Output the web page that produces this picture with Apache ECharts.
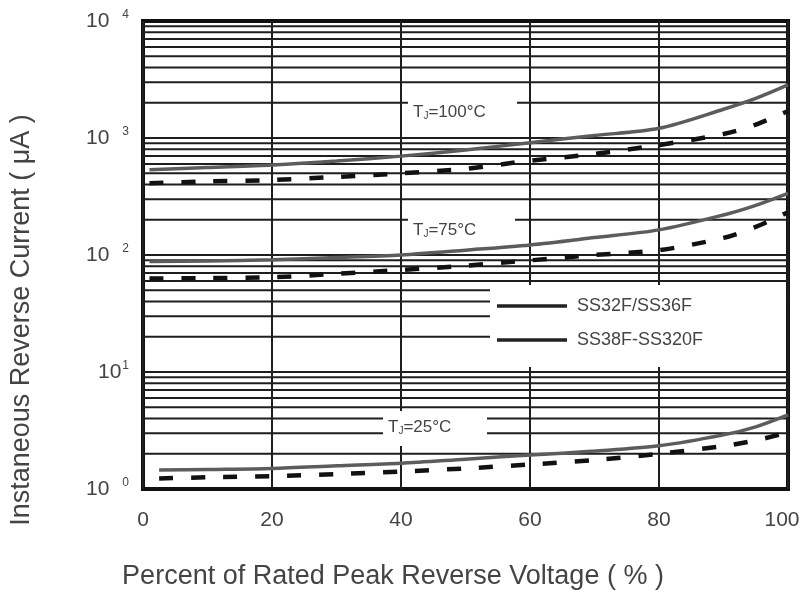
<!DOCTYPE html>
<html>
<head>
<meta charset="utf-8">
<script src="https://cdn.jsdelivr.net/npm/echarts@6/dist/echarts.min.js"></script>
<style>
html,body{margin:0;padding:0;background:#fff;}
#c{width:803px;height:590px;}
</style>
</head>
<body>
<div id="c"></div>
<script>
// ---- data ----
const xHot  = [1, 10, 20, 30, 40, 50, 60, 70, 80, 90, 95, 100];
const xCold = [2.5, 10, 20, 30, 40, 50, 60, 70, 80, 90, 95, 100];
const t100Solid = [535, 560, 588, 635, 700, 790, 912, 1050, 1210, 1760, 2180, 2840];
const t100Dash  = [410, 425, 437, 465, 499, 545, 640, 730, 871, 1082, 1300, 1700];
const t75Solid  = [88, 89, 91, 95, 100, 110, 122, 141, 164, 220, 266, 337];
const t75Dash   = [63, 63.5, 64.5, 69, 74.5, 81, 90, 100, 110, 140, 174, 232];
const t25Solid  = [1.45, 1.47, 1.50, 1.58, 1.66, 1.80, 1.95, 2.11, 2.34, 2.9, 3.4, 4.3];
const t25Dash   = [1.23, 1.26, 1.29, 1.34, 1.41, 1.50, 1.62, 1.77, 2.0, 2.33, 2.6, 3.05];
const seriesNames = ['SS32F/SS36F', 'SS38F-SS320F'];
const tempLabels = ['100°C', '75°C', '25°C'];
const xTicks = [0, 20, 40, 60, 80, 100];
const yTicks = [1, 10, 100, 1000, 10000];
const yTickLabels = [['10', '0'], ['10', '1'], ['10', '2'], ['10', '3'], ['10', '4']];
const xTitle = 'Percent of Rated Peak Reverse Voltage ( % )';
const yTitle = 'Instaneous Reverse Current ( μA )';
const decades = [1, 10, 100, 1000];
const minorMult = [2, 3, 4, 5, 6, 7, 8, 9, 10];

const FONT = 'Liberation Sans, Arial, Helvetica, sans-serif';
const TXT = '#444';

function pairs(xs, ys) { return xs.map((x, i) => [x, ys[i]]); }

// horizontal log grid lines (2..10 per decade)
const hLines = [];
decades.forEach(d => minorMult.forEach(m => { const v = d * m; if (v < 10000) hLines.push([0, v]); }));

const solidStyle = { color: '#5c5c5c', width: 3.5, type: 'solid' };
const dashStyle  = { color: '#111', width: 4.5, type: [14, 18] };

function curve(name, xs, ys, style) {
  return {
    type: 'line', name: name, data: pairs(xs, ys), smooth: 0.3,
    symbol: 'none', showSymbol: false, lineStyle: style, itemStyle: { color: style.color },
    z: 5, silent: true
  };
}

const chart = echarts.init(document.getElementById('c'), null, { renderer: 'canvas' });

function tjLabel(x, y, temp) {
  return {
    type: 'text', x: x, y: y, z: 4, silent: true,
    style: {
      text: '{t|T}{j|J}{t|=' + temp + '}',
      verticalAlign: 'middle', align: 'left',
      rich: {
        t: { fontSize: 17, fontFamily: FONT, fill: TXT, color: TXT },
        j: { fontSize: 10, fontFamily: FONT, fill: TXT, color: TXT, verticalAlign: 'bottom', padding: [8, 0, 0, 0] }
      }
    }
  };
}
function whiteRect(x, y, w, h) {
  return { type: 'rect', z: 3, silent: true, shape: { x: x, y: y, width: w, height: h }, style: { fill: '#fff' } };
}

const lineIcon = 'path://M0,0 L70,0 L70,3.5 L0,3.5 Z';

const option = {
  animation: false,
  backgroundColor: '#fff',
  textStyle: { fontFamily: FONT },
  grid: { left: 143, right: 15, top: 21, bottom: 101, show: true, borderColor: '#111', borderWidth: 4, backgroundColor: 'transparent' },
  xAxis: {
    type: 'value', min: 0, max: 100, interval: 20,
    axisLine: { show: false }, axisTick: { show: false },
    splitLine: { show: true, lineStyle: { color: '#1e1e1e', width: 2 } },
    axisLabel: {
      margin: 21, fontSize: 21, color: TXT, fontFamily: FONT,
      formatter: function (v) { const i = xTicks.indexOf(v); return i === xTicks.length - 1 ? '{r|' + xTicks[i] + '}' : String(xTicks[i]); },
      rich: { r: { fontSize: 21, color: TXT, fontFamily: FONT, padding: [0, 12, 0, 0] } }
    }
  },
  yAxis: {
    type: 'log', logBase: 10, min: 1, max: 10000,
    axisLine: { show: false }, axisTick: { show: false },
    splitLine: { show: false },
    axisLabel: {
      margin: 14, color: TXT, fontFamily: FONT,
      formatter: function (v) {
        const i = yTicks.findIndex(t => Math.abs(t - v) < t * 1e-6);
        if (i < 0) return '';
        return '{b|' + yTickLabels[i][0] + '}{' + (i === 1 ? 'n' : 's') + '|' + yTickLabels[i][1] + '}';
      },
      rich: {
        b: { fontSize: 21, color: TXT, fontFamily: FONT, lineHeight: 24 },
        s: { fontSize: 12, color: TXT, fontFamily: FONT, verticalAlign: 'top', padding: [0, 0, 10, 13] },
        n: { fontSize: 12, color: TXT, fontFamily: FONT, verticalAlign: 'top', padding: [0, 0, 10, 1] }
      }
    }
  },
  legend: {
    orient: 'vertical', left: 497, top: 297, z: 6,
    itemWidth: 70, itemHeight: 20, itemGap: 16, padding: 0,
    selectedMode: false,
    textStyle: { fontSize: 18, color: TXT, fontFamily: FONT, padding: [0, 0, 0, 5] },
    data: [
      { name: seriesNames[0], icon: lineIcon, itemStyle: { color: '#222', borderWidth: 0 } },
      { name: seriesNames[1], icon: lineIcon, itemStyle: { color: '#222', borderWidth: 0 } }
    ]
  },
  graphic: [
    whiteRect(490, 285, 296, 82),
    whiteRect(408, 90, 109, 38),
    whiteRect(408, 207, 107, 38),
    whiteRect(383, 411, 104, 35),
    tjLabel(413, 112, tempLabels[0]),
    tjLabel(413, 230, tempLabels[1]),
    tjLabel(388, 427, tempLabels[2]),
    { type: 'text', x: 393, y: 577, z: 4, silent: true,
      style: { text: xTitle, align: 'center', verticalAlign: 'middle', fontSize: 27, fontFamily: FONT, fill: TXT } },
    { type: 'text', x: 22, y: 320, rotation: Math.PI / 2, z: 4, silent: true,
      style: { text: yTitle, align: 'center', verticalAlign: 'middle', fontSize: 27, fontFamily: FONT, fill: TXT } }
  ],
  series: [
    {
      type: 'custom', name: 'grid', data: hLines, z: 1, silent: true,
      encode: { x: 0, y: 1 },
      renderItem: function (params, api) {
        const y = api.value(1);
        const p1 = api.coord([0, y]);
        const p2 = api.coord([100, y]);
        return { type: 'line', shape: { x1: p1[0], y1: p1[1], x2: p2[0], y2: p2[1] }, style: { stroke: '#1e1e1e', lineWidth: 2 } };
      }
    },
    curve(seriesNames[0], xHot, t100Solid, solidStyle),
    curve(seriesNames[1], xHot, t100Dash, dashStyle),
    curve(seriesNames[0], xHot, t75Solid, solidStyle),
    curve(seriesNames[1], xHot, t75Dash, dashStyle),
    curve(seriesNames[0], xCold, t25Solid, solidStyle),
    curve(seriesNames[1], xCold, t25Dash, dashStyle)
  ]
};
chart.setOption(option);
</script>
</body>
</html>
